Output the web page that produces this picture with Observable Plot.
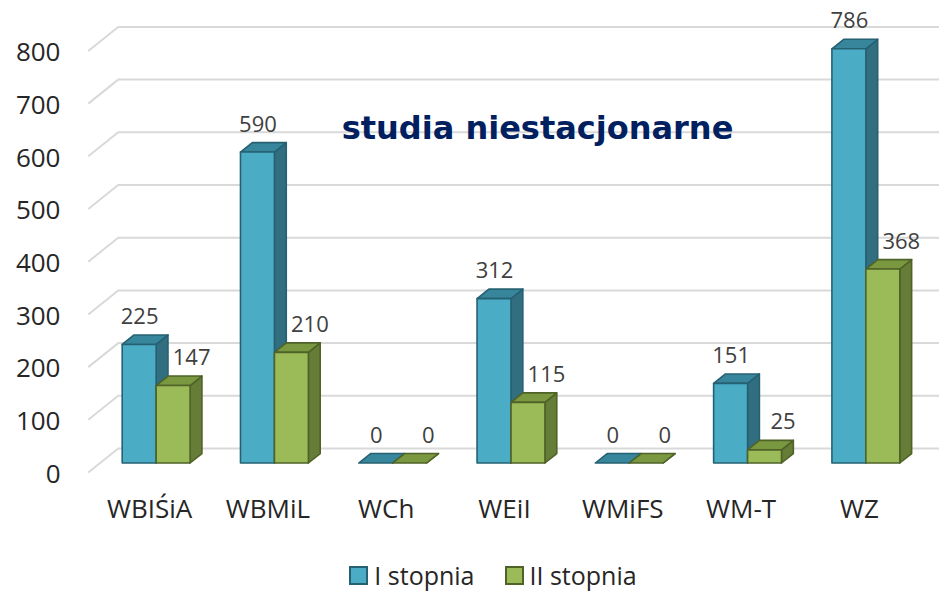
<!DOCTYPE html>
<html><head><meta charset="utf-8">
<script src="https://cdn.jsdelivr.net/npm/d3@7"></script>
<script src="https://cdn.jsdelivr.net/npm/@observablehq/plot@0.6"></script>
<style>
html,body{margin:0;padding:0;background:#fff;overflow:hidden;}
body{width:939px;height:593px;font-family:"Open Sans",sans-serif;}
#legend{height:48px;display:flex;justify-content:center;align-items:center;padding-left:47px;padding-top:12px;box-sizing:border-box;font-size:25px;line-height:22px;color:#262626;}
.item{display:flex;align-items:center;margin:0 15px;height:22px;}
.sw{width:15px;height:15px;border:2px solid;margin-right:6px;}
</style></head><body>
<div id="chart"></div>
<div id="legend"></div>
<script>
const categories = ["WBIŚiA","WBMiL","WCh","WEiI","WMiFS","WM-T","WZ"];
const stopienI = [225,590,0,312,0,151,786];
const stopienII = [147,210,0,115,0,25,368];
const seriesNames = ["I stopnia","II stopnia"];
const yTicks = [0,100,200,300,400,500,600,700,800];
const titleText = "studia niestacjonarne";

const front = ["#4BACC6","#9BBB59"];
const side = ["#316E80","#667D37"];
const top_ = ["#38869B","#7A9840"];
const edge = ["#266173","#4F6228"];

const W = 0.287, DX = 0.1, DV = 18;
const GX0 = -0.483, ZF = -0.95, ZW = 1.58;

const bars = [];
categories.forEach((c, i) => {
  [stopienI, stopienII].forEach((arr, s) => {
    const x1 = i - W + s * W;
    bars.push({cat: c, i, s, v: arr[i], x1, x2: x1 + W});
  });
});
const sides = bars.flatMap((b, k) => [
  {id: k, s: b.s, x: b.x2, y1: 0, y2: b.v},
  {id: k, s: b.s, x: b.x2 + DX, y1: DV, y2: b.v + DV}
]);
const tops = bars.flatMap((b, k) => [
  {id: k, s: b.s, y: b.v, x1: b.x1, x2: b.x2},
  {id: k, s: b.s, y: b.v + DV, x1: b.x1 + DX, x2: b.x2 + DX}
]);

const marks = [
  Plot.ruleY(yTicks, {y: d => d + ZW * DV, x1: GX0 + ZW * DX, x2: 7, stroke: "#d9d9d9", strokeWidth: 2}),
  Plot.link(yTicks, {x1: GX0 + ZF * DX, y1: d => d + ZF * DV, x2: GX0 + ZW * DX, y2: d => d + ZW * DV, stroke: "#d9d9d9", strokeWidth: 2})
];
for (const s of [0, 1]) {
  marks.push(Plot.areaY(sides, {filter: d => d.s === s, x: "x", y1: "y1", y2: "y2", z: "id", fill: side[s], stroke: edge[s], strokeWidth: 1.6, strokeLinejoin: "round"}));
}
for (const s of [0, 1]) {
  marks.push(Plot.areaX(tops, {filter: d => d.s === s, y: "y", x1: "x1", x2: "x2", z: "id", fill: top_[s], stroke: edge[s], strokeWidth: 1.6, strokeLinejoin: "round"}));
}
for (const s of [0, 1]) {
  marks.push(Plot.rect(bars, {filter: d => d.s === s, x1: "x1", x2: "x2", y1: 0, y2: "v", fill: front[s], stroke: edge[s], strokeWidth: 1.6, strokeLinejoin: "round"}));
}
marks.push(Plot.text(bars, {filter: d => d.s === 0, x: d => (d.x1 + d.x2) / 2, y: "v", text: d => String(d.v), dy: -28, fontSize: 22, fill: "#404040"}));
marks.push(Plot.text(bars, {filter: d => d.s === 1, x: d => (d.x1 + d.x2) / 2, y: "v", text: d => String(d.v), dy: -28, dx: 18, fontSize: 22, fill: "#404040"}));
marks.push(Plot.axisY(yTicks, {tickSize: 0, tickPadding: 37, dy: 11, fontSize: 26, label: null, tickFormat: d => String(d)}));
marks.push(Plot.axisX(d3.range(categories.length), {tickSize: 0, tickPadding: 36, dx: -7, fontSize: 26, label: null, tickFormat: i => categories[i]}));
marks.push(Plot.text([titleText], {frameAnchor: "top", lineAnchor: "middle", dx: 26, dy: 87, text: d => d, fontSize: 32, fontWeight: "bold", fill: "#002060", fontFamily: "DejaVu Sans"}));

const chart = Plot.plot({
  width: 939,
  height: 545,
  marginLeft: 97,
  marginRight: 14,
  marginTop: 41.4,
  marginBottom: 82,
  x: {type: "linear", domain: [-0.5, 6.5]},
  y: {type: "linear", domain: [0, 800]},
  style: {fontFamily: "'Open Sans', sans-serif", color: "#262626", background: "#fff", overflow: "visible"},
  marks
});
document.getElementById("chart").appendChild(chart);

const legend = document.getElementById("legend");
seriesNames.forEach((n, s) => {
  const it = document.createElement("div");
  it.className = "item";
  const sw = document.createElement("span");
  sw.className = "sw";
  sw.style.background = front[s];
  sw.style.borderColor = edge[s];
  it.appendChild(sw);
  const t = document.createElement("span");
  t.textContent = n;
  it.appendChild(t);
  legend.appendChild(it);
});
</script>
</body></html>
